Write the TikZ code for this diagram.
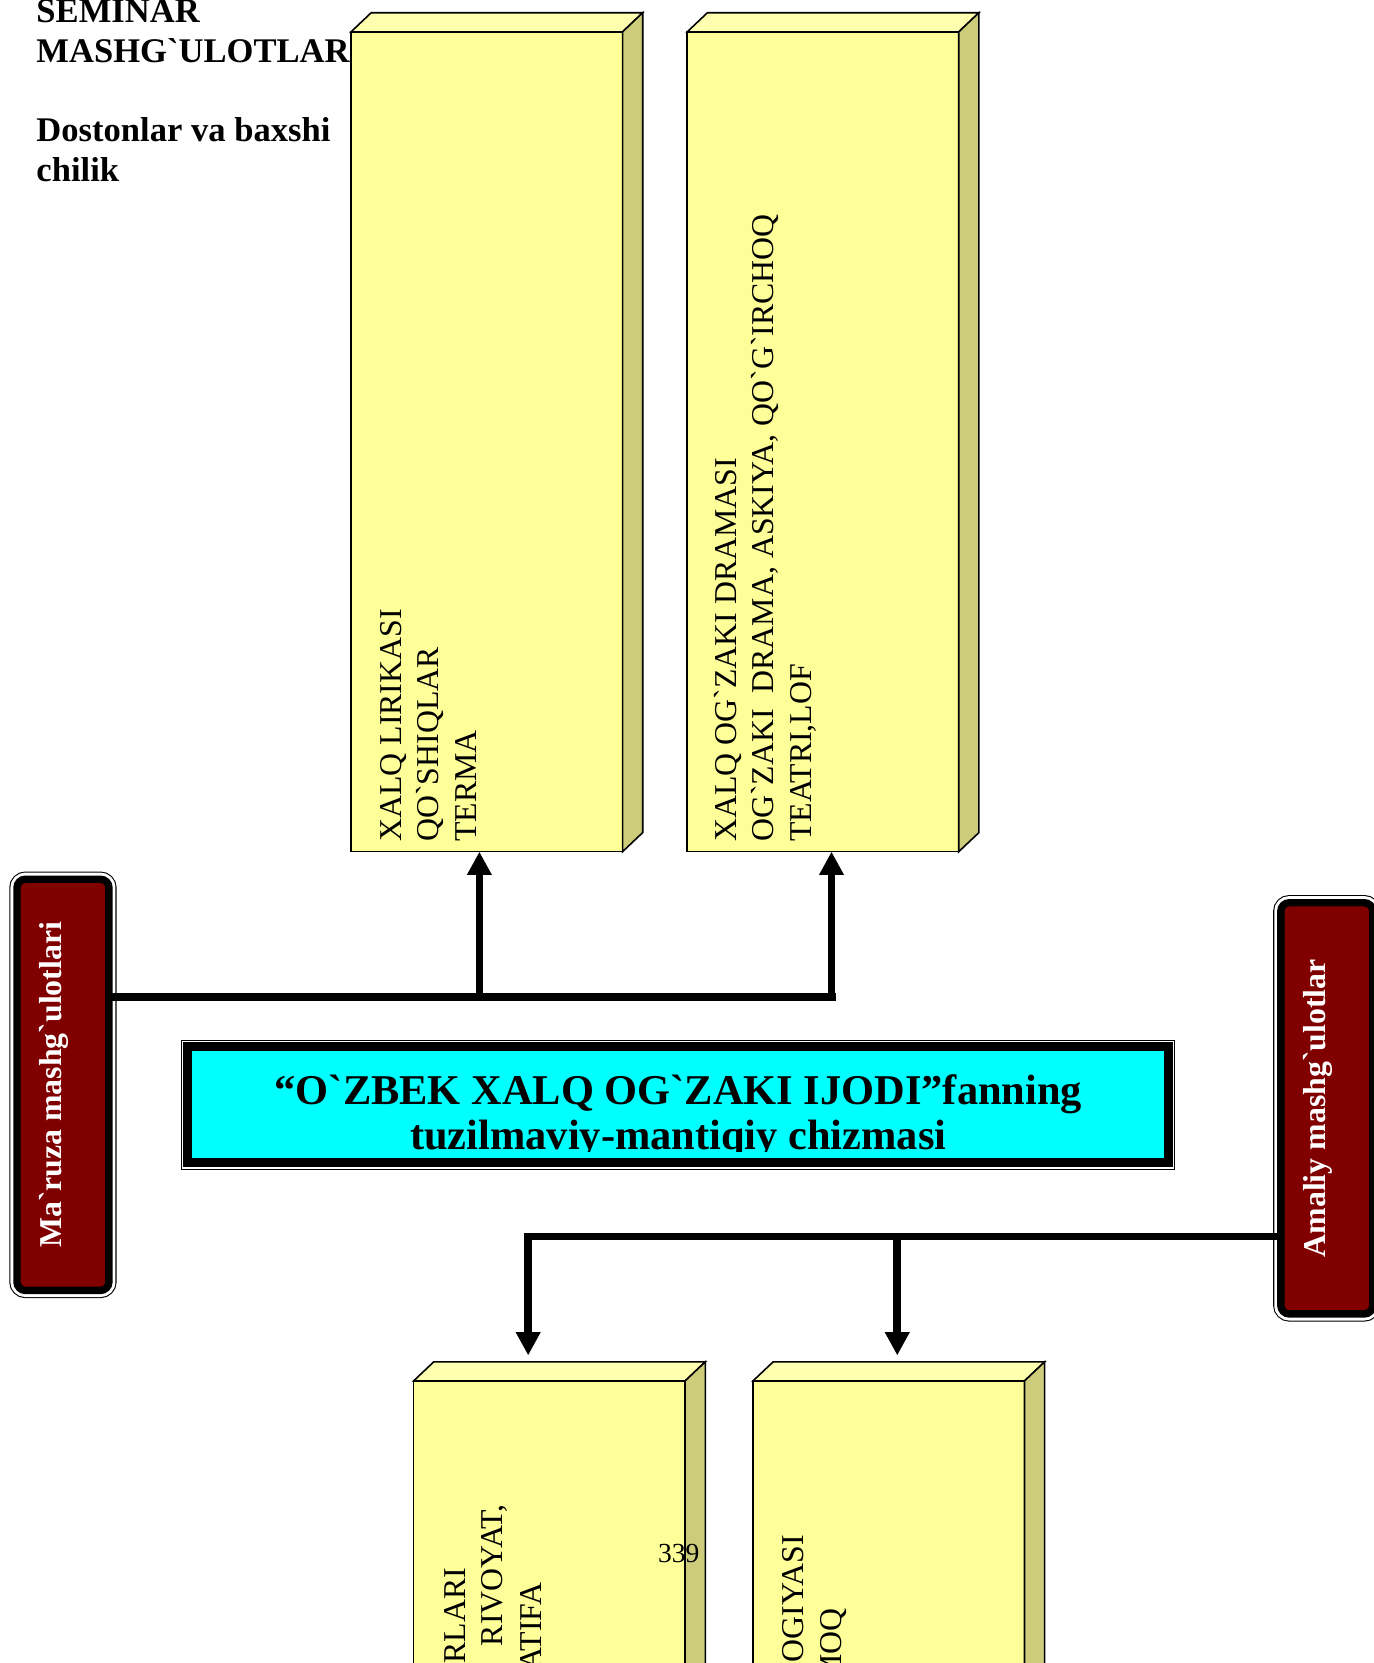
\documentclass[tikz,border=0pt]{standalone}
\usepackage{fontspec}
\setmainfont{Liberation Serif}[Ligatures=TeXOff]
\usetikzlibrary{arrows.meta}
\usetikzlibrary{positioning}
\definecolor{slabfront}{HTML}{FFFF99}
\definecolor{slabtop}{HTML}{FFFFB0}
\definecolor{slabside}{HTML}{CCCC7A}
\definecolor{lecturered}{HTML}{800000}
\definecolor{titlecyan}{RGB}{0,255,255}
\tikzset{
  x = 0.5pt,
  y = -0.5pt,
  >={Triangle[width=11pt,length=11pt]},
  heading/.style = {anchor=north west, align=left, inner sep=0pt,
    font=\fontsize{16.3pt}{18.75pt}\selectfont\bfseries},
  slab/.style = {draw, line width=0.75pt, fill=slabfront, anchor=north west,
    minimum width=128pt, minimum height=386.5pt, inner sep=0pt, outer sep=0pt},
  slabface/.style = {draw, line width=0.75pt},
  slabtext/.style = {rotate=90, anchor=north west, align=left, inner sep=0pt,
    font=\fontsize{15pt}{17.75pt}\selectfont},
  cuttext/.style = {rotate=90, anchor=base east, inner sep=0pt,
    font=\fontsize{15pt}{17.75pt}\selectfont},
  bar/.style = {line width=3.6pt},
  link/.style = {bar, ->},
  sidebox/.style = {rotate=90, rounded corners=4pt, fill=lecturered, draw,
    line width=3.5pt,
    preaction={draw=black, line width=7.2pt},
    preaction={draw=white, line width=6.2pt},
    minimum width=193.85pt, minimum height=43.35pt, inner sep=0pt, outer sep=0pt,
    text=white, font=\fontsize{15pt}{18pt}\selectfont\bfseries,
    text height=10.5pt, text depth=12pt},
  titlebox/.style = {fill=titlecyan, draw, line width=4.25pt,
    preaction={draw=black, line width=6.25pt},
    preaction={draw=white, line width=5.25pt},
    minimum width=462.4pt, minimum height=54.9pt, inner sep=0pt, outer sep=0pt},
  titletext/.style = {anchor=north, align=center, inner sep=0pt,
    font=\fontsize{20pt}{21.5pt}\selectfont\bfseries},
  pagenum/.style = {inner sep=0pt, font=\fontsize{13pt}{15pt}\selectfont},
}

\begin{document}
\begin{tikzpicture}
  \useasboundingbox (0,0) rectangle (1295,1568);
  \node [heading] (seminar) at (34,-1) {SEMINAR\\MASHG`ULOTLAR\\[18.75pt]Dostonlar va baxshi\\chilik};

  % slabs
  \node [slab] (lirika) at (331,30) {};
  \node [slab, right = 30.5pt of lirika] (drama) {};
  \node [slab] (nasr) at (390,1302) {};
  \node [slab, right = 32pt of nasr] (mifo) {};
  \foreach \b in {lirika,drama,nasr,mifo} {
    \draw [slabface, fill=slabtop] (\b.north west) -- ++(19,-18) -- ++(256,0) -- (\b.north east) -- cycle;
    \draw [slabface, fill=slabside] (\b.north east) -- ++(19,-18) -- ++(0,773) -- (\b.south east) -- cycle;
  }
  \node [slabtext] (lirikatext) at (358,794) {XALQ LIRIKASI\\QO`SHIQLAR\\TERMA};
  \node [slabtext] (dramatext) at (673,794) {XALQ OG`ZAKI DRAMASI\\OG`ZAKI~ DRAMA, ASKIYA, QO`G`IRCHOQ\\TEATRI,LOF};
  \node [cuttext] (nasrtext1) at (439,1478) {RLARI};
  \node [cuttext] (nasrtext2) at (474,1418) {RIVOYAT,};
  \node [cuttext] (nasrtext3) at (511,1492) {ATIFA};
  \node [cuttext] (mifotext1) at (758,1447) {OGIYASI};
  \node [cuttext] (mifotext2) at (793,1516) {MOQ};

  % side boxes and links
  \node [sidebox] (maruza) at (59.35,1022.85) {Ma`ruza mashg`ulotlari};
  \node [sidebox] (amaliy) at (1251,1045) {Amaliy mashg`ulotlar};
  \coordinate (up1) at (452,940);
  \coordinate (up2) at (784,940);
  \coordinate (upend) at (788,940);
  \coordinate (dn1) at (498,1166);
  \coordinate (dn2) at (846,1166);
  \draw [bar] (maruza.south |- up1) -- (upend);
  \draw [link] (up1) -- (up1 |- lirika.south);
  \draw [link] (up2) -- (up2 |- drama.south);
  \draw [link, shorten >=12pt] (amaliy.north |- dn1) -- (dn1) -- (dn1 |- nasr.north);
  \draw [link, shorten >=12pt] (dn2) -- (dn2 |- mifo.north);

  % title
  \node [titlebox] (chizma) at (639.6,1041.6) {};
  \begin{scope}
    \clip (181.5,991) rectangle (1098,1086);
    \node [titletext] (chizmatext) at (639.6,1012.5) {“O`ZBEK XALQ OG`ZAKI IJODI”fanning\\tuzilmaviy-mantiqiy chizmasi};
  \end{scope}
  \node [pagenum] (page) at (640,1465) {339};
\end{tikzpicture}
\end{document}
